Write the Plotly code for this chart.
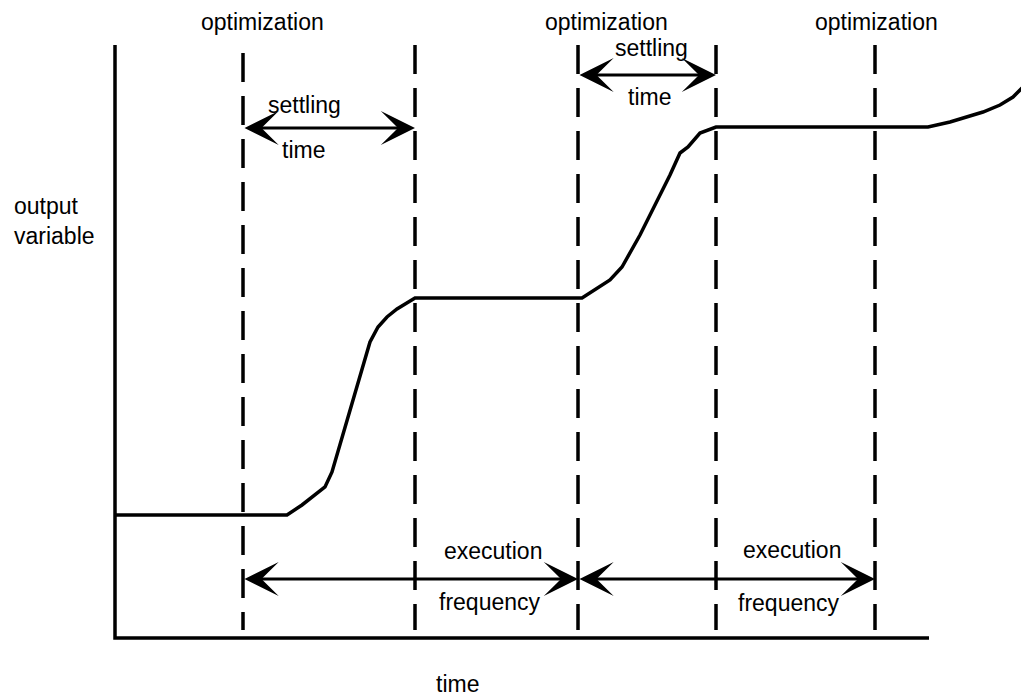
import plotly.graph_objects as go

# output variable vs time (diagram units, time left->right, output top->down)
time_pts = [115, 287, 302, 325, 332, 370, 378, 387, 397, 415,
            582, 600, 610, 622, 640, 670, 680, 688, 700, 716,
            928, 950, 983, 1000, 1013, 1025]
output_pts = [515, 515, 505, 487, 472, 342, 327, 317, 309, 298,
              298, 286, 280, 267, 235, 175, 153, 147, 133, 127,
              127, 122, 112, 105, 97, 85]

# optimization instants (dashed lines) and their top ends
opt_times = [243, 415, 578, 716, 875]
opt_tops = [53, 45, 45, 45, 45]
axis_bottom = 638
axis_top = 45
axis_left = 115
axis_right = 929

# double-headed spans: (start, end, level)
spans = [(243, 415, 128), (578, 716, 75), (243, 578, 579), (578, 875, 579)]

# labels: (text, x, y)
labels = [
    ("optimization", 262, 22), ("optimization", 606, 22), ("optimization", 876, 22),
    ("settling", 304, 105), ("time", 303, 150),
    ("settling", 651, 48), ("time", 649, 97),
    ("execution", 493, 551), ("frequency", 490, 602),
    ("execution", 792, 550), ("frequency", 789, 603),
    ("time", 457, 684),
]
ylabel = "output<br>variable"

LW = 3.5
FONT = dict(family="Liberation Sans, Arial, sans-serif", size=23, color="black")
PAGE_OFFSET = 8  # body margin of the html page

fig = go.Figure()

# axes
fig.add_trace(go.Scatter(x=[axis_left, axis_left, axis_right], y=[axis_top, axis_bottom, axis_bottom],
                         mode="lines", line=dict(color="black", width=LW), hoverinfo="skip"))

# dashed optimization lines
for t, top in zip(opt_times, opt_tops):
    fig.add_trace(go.Scatter(x=[t, t], y=[top, axis_bottom - 8], mode="lines",
                             line=dict(color="black", width=LW, dash="29px,14px"), hoverinfo="skip"))

# output variable curve
fig.add_trace(go.Scatter(x=time_pts, y=output_pts, mode="lines",
                         line=dict(color="black", width=LW), hoverinfo="skip"))

annotations = []
for x0, x1, lvl in spans:
    annotations.append(dict(x=x1, y=lvl, ax=x0, ay=lvl, xref="x", yref="y", axref="x", ayref="y",
                            text="", showarrow=True, arrowhead=3, startarrowhead=3,
                            arrowside="end+start", arrowsize=1.9, startarrowsize=1.9,
                            arrowwidth=3, arrowcolor="black"))

for txt, x, y in labels:
    annotations.append(dict(x=x, y=y, xref="x", yref="y", text=txt, showarrow=False,
                            font=FONT, xanchor="center", yanchor="middle"))

annotations.append(dict(x=12, y=221, xref="x", yref="y", text=ylabel, showarrow=False,
                        font=FONT, xanchor="left", yanchor="middle", align="left"))

fig.update_layout(
    width=1029, height=698,
    margin=dict(l=0, r=0, t=0, b=0),
    plot_bgcolor="white", paper_bgcolor="white",
    showlegend=False,
    xaxis=dict(range=[PAGE_OFFSET, 1029 + PAGE_OFFSET], visible=False, fixedrange=True),
    yaxis=dict(range=[698 + PAGE_OFFSET, PAGE_OFFSET], visible=False, fixedrange=True),
    annotations=annotations,
)

fig.write_html("out.html")
